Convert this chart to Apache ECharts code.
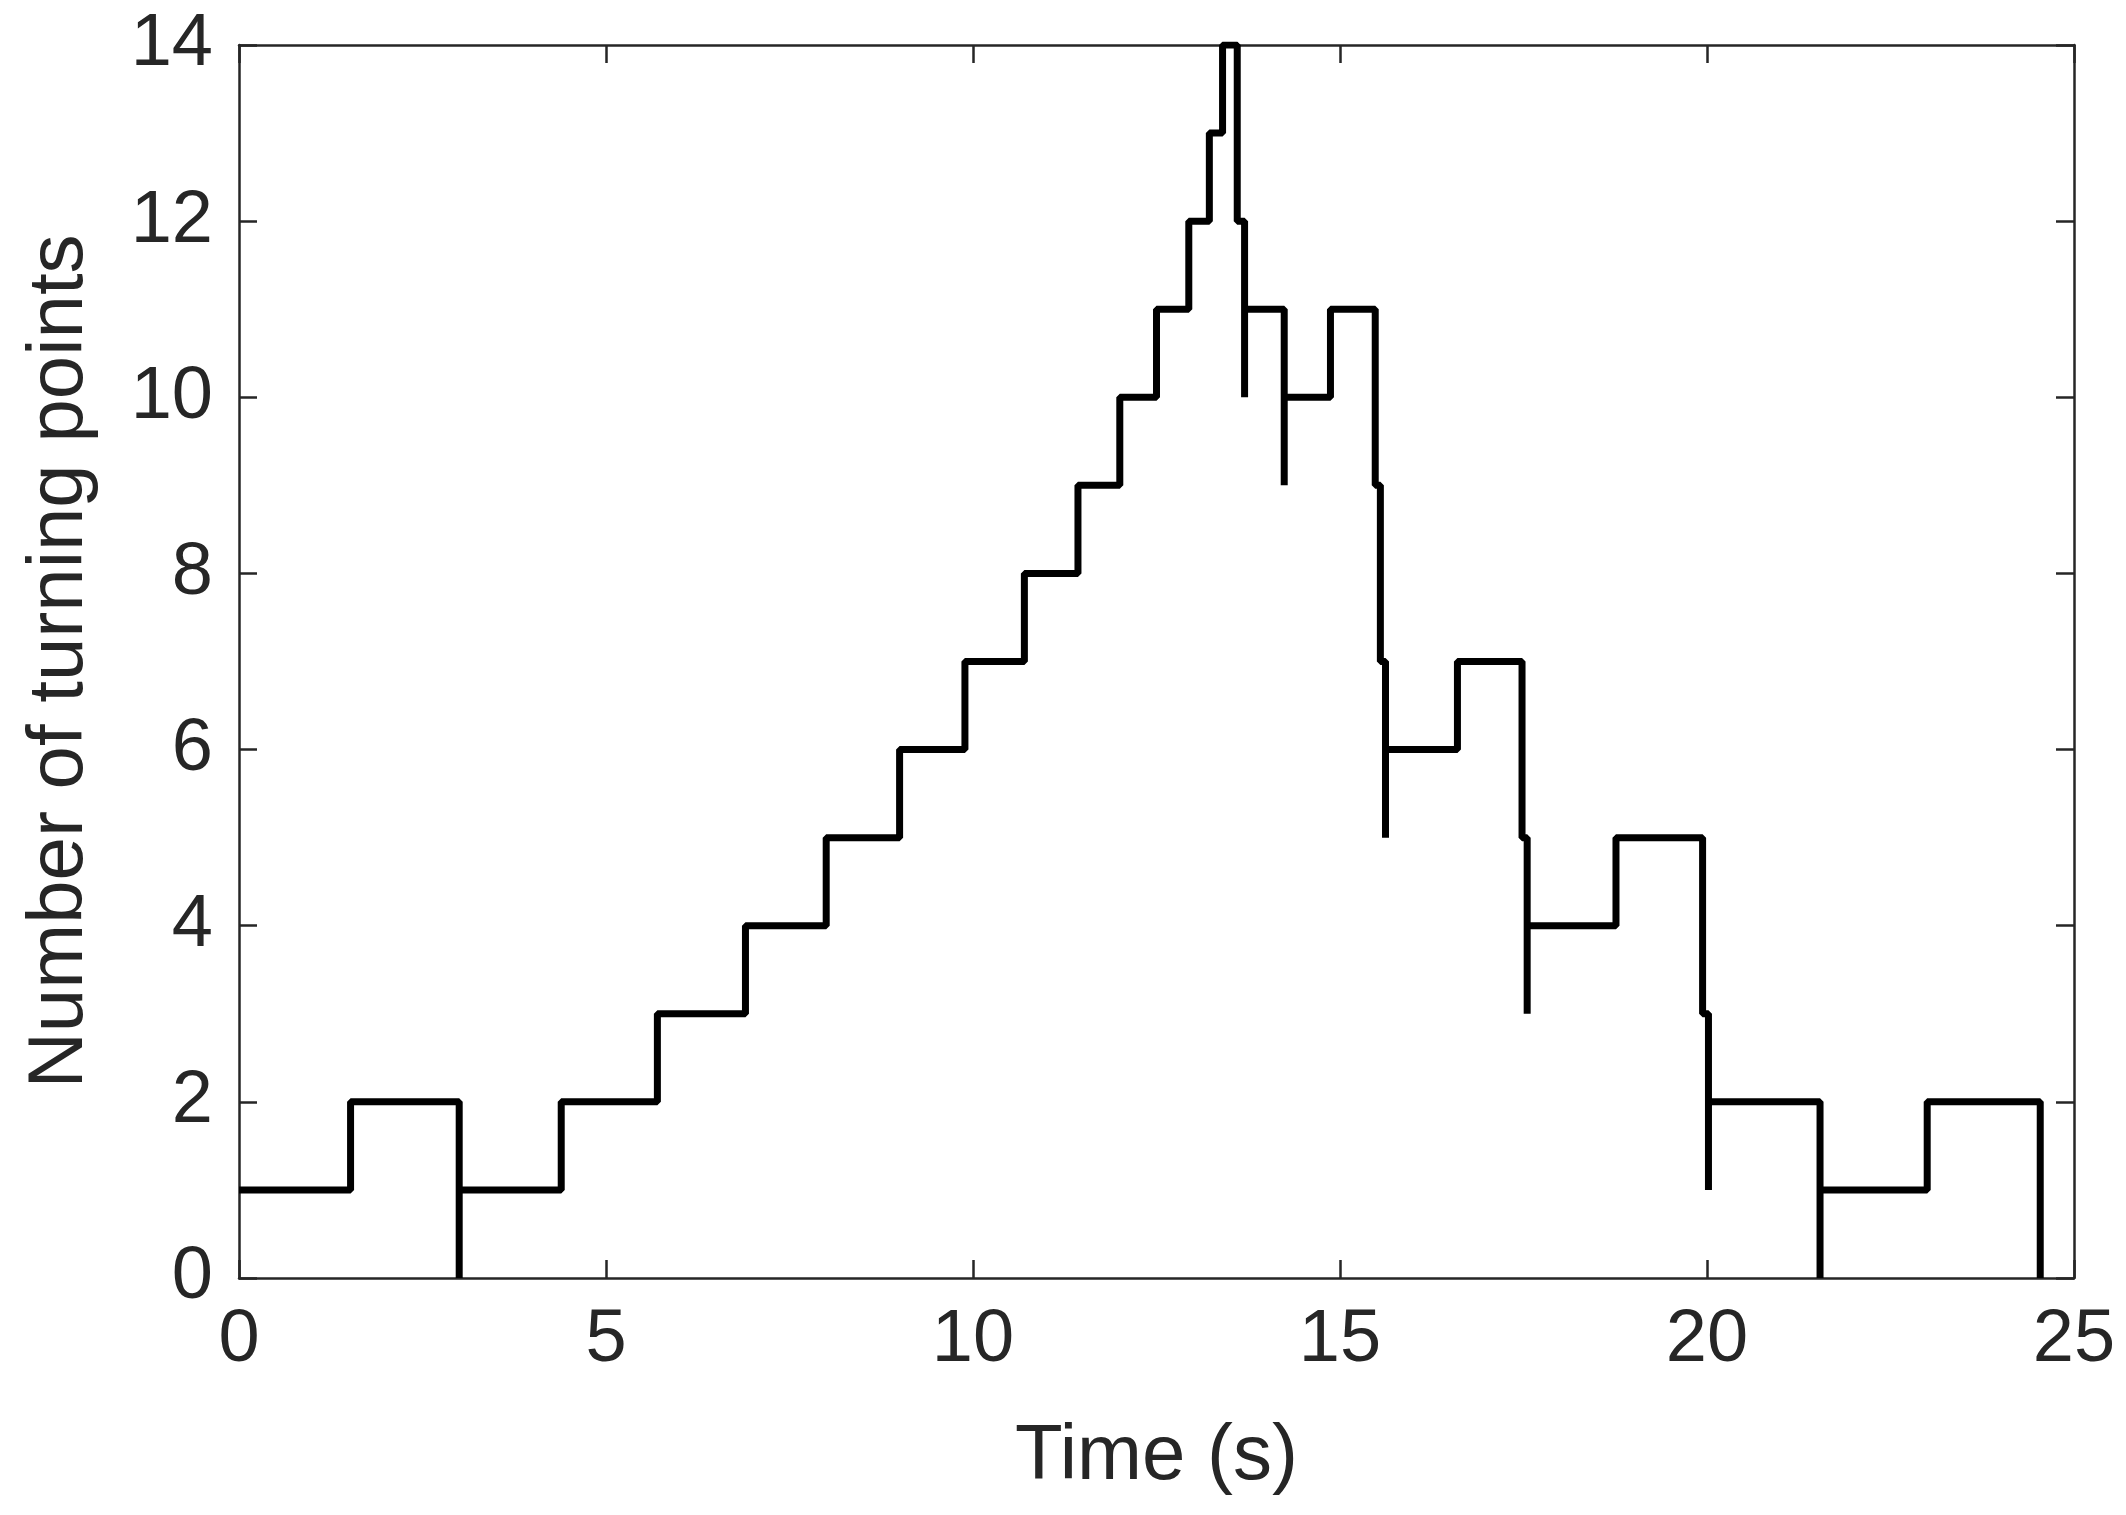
<!DOCTYPE html>
<html><head><meta charset="utf-8">
<script src="https://cdn.jsdelivr.net/npm/echarts@6/dist/echarts.min.js"></script>
<style>html,body{margin:0;background:#fff}#c{width:2126px;height:1515px}</style>
</head><body><div id="c"></div>
<script>
// step path vertices (value holds until next time)
var times = [0, 1.52, 3.0, 3.0, 4.39, 5.70, 6.9, 8.0, 9.0, 9.89, 10.7, 11.43, 12.0, 12.5, 12.94, 13.22, 13.4, 13.6, 13.7, 13.7,
    14.24, 14.24, 14.87, 15.48, 15.55, 15.62, 15.62, 16.6, 17.48, 17.55, 17.55, 18.76, 19.94, 20.02, 20.02, 21.54, 21.54, 23.0, 24.54, 24.54];
var counts = [1, 2, 0, 1, 2, 3, 4, 5, 6, 7, 8, 9, 10, 11, 12, 13, 14, 12, 10, 11,
    9, 10, 11, 9, 7, 5, 6, 7, 5, 3, 4, 5, 3, 1, 2, 0, 1, 2, 0, 0];

var chart = echarts.init(document.getElementById('c'));
var txt = '#262626';
var font = 'Liberation Sans';
function axis(pos, max, interval, extra) {
    var o = {
        type: 'value', position: pos, min: 0, max: max, interval: interval,
        axisLine: {show: true, onZero: false, lineStyle: {color: txt, width: 2.5}},
        axisTick: {show: true, inside: true, length: 18, lineStyle: {color: txt, width: 2.5}},
        axisLabel: {show: false},
        splitLine: {show: false}
    };
    for (var k in extra) o[k] = extra[k];
    return o;
}
var label = {show: true, fontFamily: font, fontSize: 74, color: txt, margin: 26};
var nameStyle = {fontFamily: font, fontSize: 78, color: txt};
var data = times.map(function (t, i) { return [t, counts[i]]; });
chart.setOption({
    animation: false,
    grid: {left: 239, right: 52, top: 45, bottom: 237},
    xAxis: [
        axis('bottom', 25, 5, {name: 'Time (s)', nameLocation: 'middle', nameGap: 140,
            nameTextStyle: nameStyle, axisLabel: label}),
        axis('top', 25, 5, {})
    ],
    yAxis: [
        axis('left', 14, 2, {name: 'Number of turning points', nameLocation: 'middle', nameGap: 140,
            nameTextStyle: nameStyle, axisLabel: label}),
        axis('right', 14, 2, {})
    ],
    series: [{
        type: 'line', step: 'end', showSymbol: false, data: data,
        lineStyle: {color: '#000', width: 7}
    }]
});
</script></body></html>
